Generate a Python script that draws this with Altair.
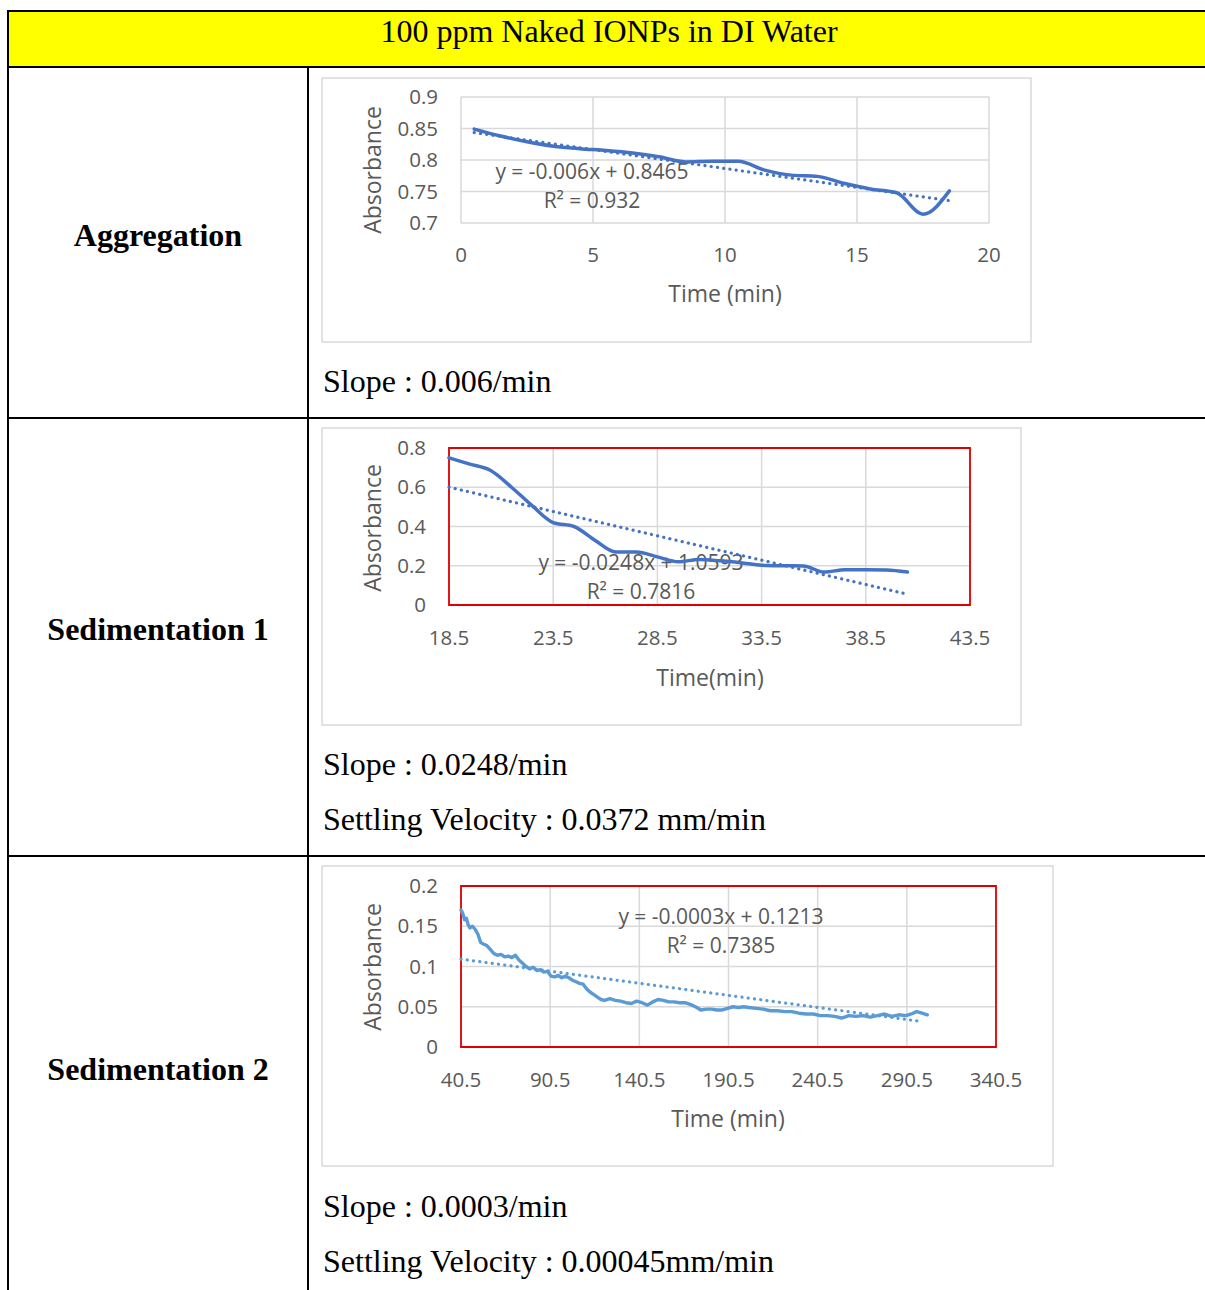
import altair as alt
import pandas as pd

# ---------------- data ----------------
agg_time = [0.5, 1.5, 2.5, 3.5, 4.5, 5.5, 6.5, 7.5, 8.5, 9.5, 10.5, 11.5,
            12.5, 13.5, 14.5, 15.5, 16.5, 17.5, 18.5]
agg_abs = [0.849, 0.838, 0.829, 0.822, 0.818, 0.815, 0.811, 0.805, 0.797,
           0.798, 0.798, 0.784, 0.776, 0.774, 0.763, 0.754, 0.748, 0.714, 0.751]

sed1_time = [18.5, 19.5, 20.5, 21.5, 22.5, 23.5, 24.5, 25.5, 26.5, 27.5, 28.5,
             29.5, 30.5, 31.5, 32.5, 33.5, 34.5, 35.5, 36.5, 37.5, 38.5, 39.5, 40.5]
sed1_abs = [0.750, 0.718, 0.685, 0.600, 0.505, 0.420, 0.400, 0.330, 0.270,
            0.270, 0.245, 0.220, 0.232, 0.225, 0.215, 0.203, 0.200, 0.199,
            0.168, 0.180, 0.180, 0.178, 0.168]

sed2_time = [40.5, 41.5, 42.5, 43.5, 44.5, 45.5, 47, 48.5, 50, 51.5, 53, 55, 57,
             59, 61, 63, 65, 67, 69, 71, 73, 75, 77, 79, 81, 83, 85, 87, 89, 91,
             93, 95, 97, 99, 101, 103, 105, 107, 109, 111, 113, 115, 117, 119,
             121, 124, 127, 130, 133, 136, 139, 142, 145, 148, 151, 154, 157,
             160, 163, 166, 169, 172, 175, 178, 181, 184, 187, 190, 193, 196,
             199, 202, 206, 210, 214, 218, 222, 226, 230, 234, 238, 242, 246,
             250, 254, 258, 262, 266, 270, 274, 278, 282, 286, 290, 293, 296,
             299, 302]
sed2_abs = [0.170, 0.166, 0.158, 0.160, 0.152, 0.148, 0.150, 0.146, 0.140,
            0.130, 0.128, 0.126, 0.121, 0.116, 0.114, 0.115, 0.112, 0.113,
            0.111, 0.114, 0.108, 0.104, 0.100, 0.097, 0.099, 0.095, 0.096,
            0.093, 0.094, 0.088, 0.087, 0.089, 0.086, 0.088, 0.086, 0.083,
            0.081, 0.079, 0.078, 0.072, 0.068, 0.065, 0.062, 0.059, 0.058,
            0.060, 0.058, 0.057, 0.055, 0.054, 0.057, 0.055, 0.052, 0.056,
            0.059, 0.058, 0.056, 0.056, 0.055, 0.055, 0.053, 0.050, 0.046,
            0.047, 0.047, 0.046, 0.046, 0.048, 0.050, 0.049, 0.050, 0.049,
            0.048, 0.047, 0.045, 0.045, 0.044, 0.044, 0.042, 0.041, 0.041,
            0.039, 0.039, 0.038, 0.036, 0.039, 0.038, 0.039, 0.037, 0.039,
            0.041, 0.038, 0.040, 0.039, 0.041, 0.044, 0.042, 0.040]

# linear trendlines (slope, intercept, R²)
agg_fit = (-0.006, 0.8465, "0.932")
sed1_fit = (-0.0248, 1.0593, "0.7816")
sed2_fit = (-0.0003, 0.1213, "0.7385")

agg_xticks = [0, 5, 10, 15, 20]
agg_xlabels = ["0", "5", "10", "15", "20"]
agg_yticks = [0.7, 0.75, 0.8, 0.85, 0.9]
agg_ylabels = ["0.7", "0.75", "0.8", "0.85", "0.9"]

sed1_xticks = [18.5, 23.5, 28.5, 33.5, 38.5, 43.5]
sed1_xlabels = ["18.5", "23.5", "28.5", "33.5", "38.5", "43.5"]
sed1_yticks = [0, 0.2, 0.4, 0.6, 0.8]
sed1_ylabels = ["0", "0.2", "0.4", "0.6", "0.8"]

sed2_xticks = [40.5, 90.5, 140.5, 190.5, 240.5, 290.5, 340.5]
sed2_xlabels = ["40.5", "90.5", "140.5", "190.5", "240.5", "290.5", "340.5"]
sed2_yticks = [0, 0.05, 0.1, 0.15, 0.2]
sed2_ylabels = ["0", "0.05", "0.1", "0.15", "0.2"]

# ---------------- styling ----------------
W, H = 1205, 1290
SERIF = "Liberation Serif"
SANS = "Open Sans"
TXT = "#595959"
GRID = "#D9D9D9"
ONE = pd.DataFrame({"k": [0]})


def rule(x1, y1, x2, y2, color="black", width=2.0):
    return alt.Chart(ONE).mark_rule(color=color, strokeWidth=width).encode(
        x=alt.value(x1), x2=alt.value(x2), y=alt.value(y1), y2=alt.value(y2))


def box(x1, y1, x2, y2, stroke=None, fill=None, width=1.5):
    kw = {}
    if stroke is not None:
        kw["stroke"] = stroke
        kw["strokeWidth"] = width
    kw["fill"] = fill if fill is not None else "transparent"
    return alt.Chart(ONE).mark_rect(**kw).encode(
        x=alt.value(x1), x2=alt.value(x2), y=alt.value(y1), y2=alt.value(y2))


def text(s, x, y, size, font=SERIF, weight="normal", color="black",
         align="center", baseline="alphabetic", angle=0):
    kw = dict(text=s, fontSize=size, font=font, fontWeight=weight, color=color,
              align=align, baseline=baseline)
    if angle:
        kw["angle"] = angle
    return alt.Chart(ONE).mark_text(**kw).encode(x=alt.value(x), y=alt.value(y))


def panel(p):
    xs = alt.Scale(domain=p["xdom"], range=p["xpx"], nice=False, zero=False)
    ys = alt.Scale(domain=p["ydom"], range=[p["ypx"][0], p["ypx"][1]],
                   nice=False, zero=False)
    left, right = p["xpx"]
    bottom, top = p["ypx"]
    bx = p["box"]
    layers = [box(bx[0], bx[1], bx[2], bx[3], stroke=GRID, fill="white", width=1.5)]

    gx = pd.DataFrame({"v": p["xticks"], "lab": p["xlabels"]})
    gy = pd.DataFrame({"v": p["yticks"], "lab": p["ylabels"]})
    layers.append(alt.Chart(gx).mark_rule(color=GRID, strokeWidth=1.5).encode(
        x=alt.X("v:Q", scale=xs, axis=None), y=alt.value(top), y2=alt.value(bottom)))
    layers.append(alt.Chart(gy).mark_rule(color=GRID, strokeWidth=1.5).encode(
        y=alt.Y("v:Q", scale=ys, axis=None), x=alt.value(left), x2=alt.value(right)))
    if p.get("frame"):
        layers.append(box(left, top, right, bottom, stroke=p["frame"], width=1.8))

    layers.append(alt.Chart(gx).mark_text(font=SANS, fontSize=20.5, color=TXT,
                                          baseline="middle").encode(
        x=alt.X("v:Q", scale=xs, axis=None), y=alt.value(p["xlab_y"]), text="lab:N"))
    layers.append(alt.Chart(gy).mark_text(font=SANS, fontSize=20.5, color=TXT,
                                          baseline="middle", align="right", dy=1).encode(
        y=alt.Y("v:Q", scale=ys, axis=None), x=alt.value(p["ylab_x"]), text="lab:N"))
    layers.append(text(p["xtitle"], p["xtitle_pos"][0], p["xtitle_pos"][1], 23,
                       font=SANS, color=TXT, baseline="middle"))
    layers.append(text("Absorbance", p["ytitle_pos"][0], p["ytitle_pos"][1], 23,
                       font=SANS, color=TXT, baseline="middle", angle=270))

    slope, icpt, r2 = p["fit"]
    sign = "+" if icpt >= 0 else "-"
    eq = f"y = {slope:g}x {sign} {abs(icpt):g}"
    layers.append(text(eq, p["eq_pos"][0], p["eq_pos"][1], 21, font=SANS,
                       color=TXT, baseline="middle"))
    layers.append(text(f"R² = {r2}", p["eq_pos"][0], p["eq_pos"][1] + 28.5, 21,
                       font=SANS, color=TXT, baseline="middle"))

    series = pd.DataFrame({"t": p["t"], "a": p["a"]})
    layers.append(alt.Chart(series).mark_line(
        color=p["color"], strokeWidth=p["lw"], interpolate=p["interp"],
        strokeCap="round", strokeJoin="round").encode(
        x=alt.X("t:Q", scale=xs, axis=None), y=alt.Y("a:Q", scale=ys, axis=None)))

    t_end = p.get("trend_end", max(p["t"]))
    trend = pd.DataFrame({"t": [min(p["t"]), t_end]})
    layers.append(alt.Chart(trend).transform_calculate(
        a=f"{slope} * datum.t + {icpt}").mark_line(
        color=p["color"], strokeWidth=3.2, strokeDash=[0.1, 6.2],
        strokeCap="round").encode(
        x=alt.X("t:Q", scale=xs, axis=None), y=alt.Y("a:Q", scale=ys, axis=None)))
    return layers


panels = [
    dict(box=(322, 78, 1031, 342), xpx=[461, 989], ypx=[223, 97],
         xdom=[0, 20], ydom=[0.7, 0.9],
         xticks=agg_xticks, xlabels=agg_xlabels, yticks=agg_yticks, ylabels=agg_ylabels,
         xlab_y=256, ylab_x=438, xtitle="Time (min)", xtitle_pos=(725, 295),
         ytitle_pos=(374, 170), eq_pos=(592, 173), fit=agg_fit,
         t=agg_time, a=agg_abs, color="#4472C4", lw=3.5, interp="monotone"),
    dict(box=(322, 428, 1021, 725), xpx=[449, 970], ypx=[605, 448],
         xdom=[18.5, 43.5], ydom=[0, 0.8], frame="#E00000",
         xticks=sed1_xticks, xlabels=sed1_xlabels, yticks=sed1_yticks, ylabels=sed1_ylabels,
         xlab_y=639, ylab_x=426, xtitle="Time(min)", xtitle_pos=(710, 679),
         ytitle_pos=(374, 528), eq_pos=(641, 564), fit=sed1_fit,
         t=sed1_time, a=sed1_abs, color="#4472C4", lw=3.5, interp="monotone"),
    dict(box=(322, 866, 1053, 1166), xpx=[461, 996], ypx=[1047, 886],
         xdom=[40.5, 340.5], ydom=[0, 0.2], frame="#E00000",
         xticks=sed2_xticks, xlabels=sed2_xlabels, yticks=sed2_yticks, ylabels=sed2_ylabels,
         xlab_y=1081, ylab_x=438, xtitle="Time (min)", xtitle_pos=(728, 1120),
         ytitle_pos=(374, 967), eq_pos=(721, 918), fit=sed2_fit,
         t=sed2_time, a=sed2_abs, color="#5B9BD5", lw=3.4, interp="linear",
         trend_end=298),
]

layers = []
# table header
layers.append(box(8, 11, W + 2, 67, fill="#FFFF00"))
layers.append(text("100 ppm Naked IONPs in DI Water", 609, 42, 32))
# table grid
layers.append(rule(8, 11, W + 2, 11))
layers.append(rule(8, 67, W + 2, 67))
layers.append(rule(8, 418, W + 2, 418))
layers.append(rule(8, 856, W + 2, 856))
layers.append(rule(8, 10, 8, H + 2))
layers.append(rule(308, 67, 308, H + 2))

# row labels
layers.append(text("Aggregation", 158, 246, 32, weight="bold"))
layers.append(text("Sedimentation 1", 158, 640, 32, weight="bold"))
layers.append(text("Sedimentation 2", 158, 1080, 32, weight="bold"))

for p in panels:
    layers.extend(panel(p))

# notes under each chart
notes = [("Slope : 0.006/min", 392), ("Slope : 0.0248/min", 775),
         ("Settling Velocity : 0.0372 mm/min", 830), ("Slope : 0.0003/min", 1217),
         ("Settling Velocity : 0.00045mm/min", 1272)]
for s, y in notes:
    layers.append(text(s, 323, y, 32, align="left"))

chart = alt.layer(*layers).resolve_scale(
    x="independent", y="independent"
).properties(
    width=W, height=H, padding=0, autosize="none", background="white"
).configure_view(stroke=None)

chart.save("out.html", embed_options={"renderer": "svg", "actions": False})
